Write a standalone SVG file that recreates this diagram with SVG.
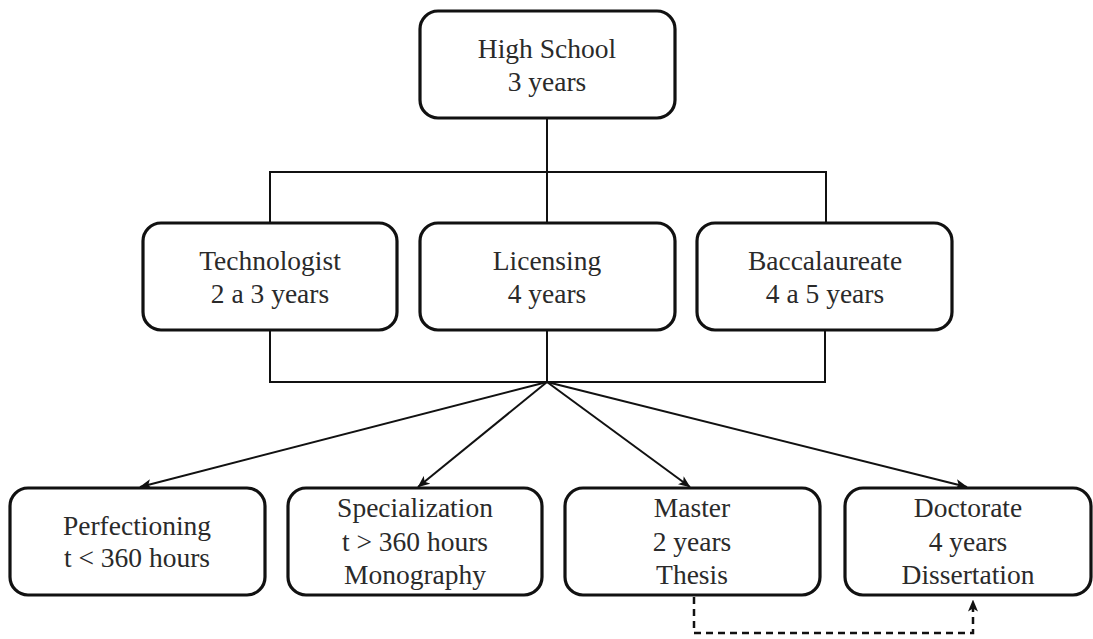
<svg xmlns="http://www.w3.org/2000/svg" width="1093" height="639" viewBox="0 0 1093 639">
<defs>
<style>
.box{fill:#fff;stroke:#111;stroke-width:3.2}
.t{font-size:27.5px;fill:#2a2a2a;text-anchor:middle}
.ln{fill:none;stroke:#111;stroke-width:2}
.dash{fill:none;stroke:#111;stroke-width:2.5;stroke-dasharray:7 5}
</style>
<marker id="arr" viewBox="0 0 12 10" refX="11.5" refY="5" markerWidth="12" markerHeight="10" markerUnits="userSpaceOnUse" orient="auto">
<path d="M0,0 L12,5 L0,10 L3,5 Z" fill="#111"/>
</marker>
</defs>
<rect width="1093" height="639" fill="#fff"/>
<g id="connectors">
<path class="ln" d="M547,118 V172 M270,222 V172 H826 V222 M547,172 V223"/>
<path class="ln" d="M270,330 V382 H825 V330 M547,330 V382"/>
<line class="ln" x1="547" y1="382" x2="140" y2="487" marker-end="url(#arr)"/>
<line class="ln" x1="547" y1="382" x2="418" y2="487" marker-end="url(#arr)"/>
<line class="ln" x1="547" y1="382" x2="690" y2="487" marker-end="url(#arr)"/>
<line class="ln" x1="547" y1="382" x2="967" y2="487" marker-end="url(#arr)"/>
<path class="dash" d="M694,597 V633 H973 V600" marker-end="url(#arr)"/>
</g>
<g font-family="Times New Roman, Liberation Serif, DejaVu Serif, serif">
<g id="highschool">
<rect class="box" x="420" y="11" width="255" height="107" rx="18"/>
<text class="t" x="547" y="58">High School</text>
<text class="t" x="547" y="91">3 years</text>
</g>
<g id="technologist">
<rect class="box" x="143" y="223" width="254" height="107" rx="18"/>
<text class="t" x="270" y="270">Technologist</text>
<text class="t" x="270" y="303">2 a 3 years</text>
</g>
<g id="licensing">
<rect class="box" x="420" y="223" width="255" height="107" rx="18"/>
<text class="t" x="547" y="270">Licensing</text>
<text class="t" x="547" y="303">4 years</text>
</g>
<g id="baccalaureate">
<rect class="box" x="697" y="223" width="255" height="107" rx="18"/>
<text class="t" x="825" y="270">Baccalaureate</text>
<text class="t" x="825" y="303">4 a 5 years</text>
</g>
<g id="perfectioning">
<rect class="box" x="10" y="488" width="255" height="107" rx="18"/>
<text class="t" x="137" y="535">Perfectioning</text>
<text class="t" x="137" y="567">t &lt; 360 hours</text>
</g>
<g id="specialization">
<rect class="box" x="288" y="488" width="254" height="107" rx="18"/>
<text class="t" x="415" y="517">Specialization</text>
<text class="t" x="415" y="551">t &gt; 360 hours</text>
<text class="t" x="415" y="584">Monography</text>
</g>
<g id="master">
<rect class="box" x="565" y="488" width="255" height="107" rx="18"/>
<text class="t" x="692" y="517">Master</text>
<text class="t" x="692" y="551">2 years</text>
<text class="t" x="692" y="584">Thesis</text>
</g>
<g id="doctorate">
<rect class="box" x="845" y="488" width="246" height="107" rx="18"/>
<text class="t" x="968" y="517">Doctorate</text>
<text class="t" x="968" y="551">4 years</text>
<text class="t" x="968" y="584">Dissertation</text>
</g>
</g>
</svg>
